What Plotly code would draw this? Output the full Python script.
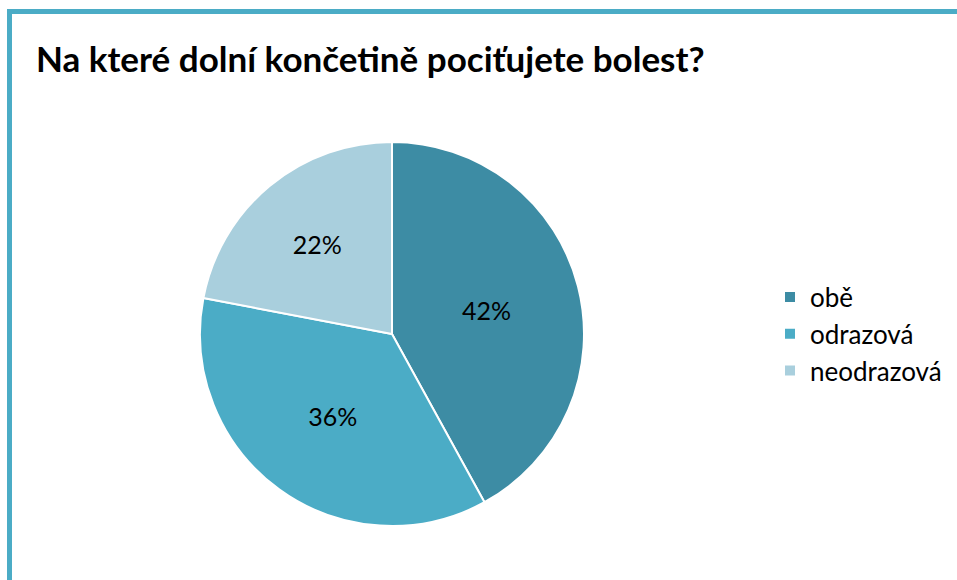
import plotly.graph_objects as go

W, H = 957, 580

title = "Na které dolní končetině pociťujete bolest?"
categories = ["obě", "odrazová", "neodrazová"]
values = [42, 36, 22]
colors = ["#3D8CA4", "#4BACC6", "#A9CFDD"]

FONT = "Lato"

fig = go.Figure(go.Pie(
    labels=categories,
    values=values,
    sort=False,
    direction="clockwise",
    rotation=0,
    marker=dict(colors=colors, line=dict(color="white", width=2)),
    texttemplate="%{percent:.0%}",
    textposition="inside",
    insidetextorientation="horizontal",
    textfont=dict(family=FONT, size=25, color="black"),
    domain=dict(x=[200 / W, 584 / W], y=[1 - 526 / H, 1 - 142 / H]),
    hoverinfo="label+percent",
))

fig.update_layout(
    width=W, height=H,
    margin=dict(l=0, r=0, t=0, b=0),
    paper_bgcolor="white",
    plot_bgcolor="white",
    title=dict(text="<b>" + title + "</b>", x=36 / W, xanchor="left", y=1 - 60 / H, yanchor="middle",
               font=dict(family=FONT, size=35, color="black")),
    legend=dict(x=770 / W, y=1 - 334 / H, xanchor="left", yanchor="middle",
                font=dict(family=FONT, size=26, color="black"),
                itemwidth=30, traceorder="normal"),
    shapes=[dict(type="rect", xref="paper", yref="paper",
                 x0=9.5 / W, x1=1.2, y0=-0.2, y1=1 - 11.5 / H,
                 line=dict(color="#4BACC6", width=5), fillcolor="rgba(0,0,0,0)", layer="above")],
)

fig.write_html("out.html")
